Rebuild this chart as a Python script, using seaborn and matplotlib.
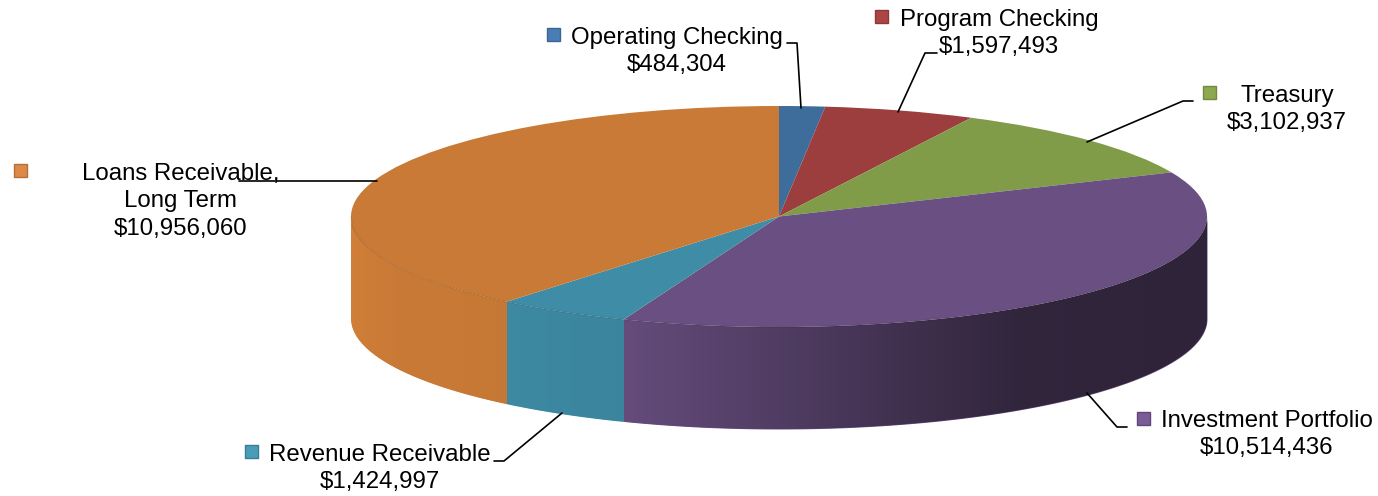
import numpy as np
import matplotlib
matplotlib.use("Agg")
import matplotlib.pyplot as plt
from matplotlib.transforms import Affine2D
from matplotlib.patches import Rectangle
import seaborn as sns

# --------------------------- DATA ---------------------------
names = ["Operating Checking", "Program Checking", "Treasury", "Investment Portfolio",
         "Revenue Receivable", "Loans Receivable,\nLong Term"]
balances = [484304, 1597493, 3102937, 10514436, 1424997, 10956060]

# --------------------------- SETTINGS ---------------------------
sns.set_theme(style="white")
plt.rcParams['font.family'] = ['Liberation Sans', 'DejaVu Sans']

top_colors = sns.color_palette(["#3e6d9c", "#9c3d3e", "#809c48", "#6a5082", "#3e8ca5", "#c97a36"])
key_colors = ["#4a7db5", "#ab4645", "#8ea84f", "#7a5c96", "#4a9cb8", "#dc8a47"]
key_edges = ["#3a6595", "#8c3836", "#718a3c", "#5e4675", "#377f96", "#b86f35"]

# layout, in pixels of the 1378x496 picture
CX, CY, RX, RY, DEPTH = 779, 216.5, 428, 110.5, 102
text_xy = [(677, 51.5), (999, 33.5), (1287, 109.5), (1267, 434.5), (380, 468.5), (181, 201.5)]
key_xy = [(547, 28), (875, 10), (1203, 86), (1137, 412), (245, 445), (14, 164)]
leaders = [
    [(787, 43), (797, 43), (801, 108)],
    [(937, 53), (925, 53), (898, 112)],
    [(1193, 101), (1183, 101), (1087, 142)],
    [(1127, 427), (1117, 427), (1087, 393)],
    [(494, 461), (504, 461), (562, 413)],
    [(239, 181), (377, 181)],
]
# brightness of the side wall from the left end to the right end of the pie
shade_u = [-1.0, -0.9, -0.7, -0.37, 0.0, 0.3, 0.55, 1.0]
shade_f = [1.04, 1.0, 0.99, 0.95, 0.76, 0.6, 0.47, 0.44]


def arc_xy(theta):
    # theta in radians, clockwise from the top of the pie
    return CX + RX * np.sin(theta), CY - RY * np.cos(theta)


fig = plt.figure(figsize=(13.78, 4.96), dpi=100)
ax = fig.add_axes([0, 0, 1, 1])

shares = np.array(balances) / sum(balances)
edges = np.concatenate([[0], np.cumsum(shares)]) * 2 * np.pi

# --------------------------- SIDE WALL ---------------------------
for i, color in enumerate(top_colors):
    start, end = max(edges[i], np.pi / 2), min(edges[i + 1], 3 * np.pi / 2)
    if end <= start:
        continue
    x, y = arc_xy(np.linspace(start, end, 200))
    order = np.argsort(x)
    x, y = x[order], y[order]
    body = ax.fill_between(x, y, y + DEPTH, color=color, lw=0, zorder=1)
    # gradient clipped to the wall piece so it shades smoothly
    u = (np.linspace(x.min(), x.max(), 256) - CX) / RX
    grad = np.clip(np.outer(np.interp(u, shade_u, shade_f), color), 0, 1)[None, :, :]
    im = ax.imshow(grad, extent=[x.min(), x.max(), y.max() + DEPTH, y.min()],
                   aspect='auto', zorder=1.5, interpolation='bilinear')
    im.set_clip_path(body.get_paths()[0], ax.transData)

# --------------------------- TOP FACE ---------------------------
wedges, _ = ax.pie(balances, colors=top_colors, startangle=90, counterclock=False,
                   wedgeprops={'linewidth': 0})
squash = Affine2D().scale(RX, -RY).translate(CX, CY) + ax.transData
for w in wedges:
    w.set_transform(squash)
    w.set_zorder(2)

ax.set_aspect('auto')
ax.set_xlim(0, 1378)
ax.set_ylim(496, 0)
ax.axis('off')

# darker rim between the top face and the wall
rim = np.linspace(np.pi / 2, 3 * np.pi / 2, 200)
rx, ry = arc_xy(rim)
ax.plot(rx, ry, color='black', alpha=0.1, lw=1, zorder=3)

# --------------------------- LABELS ---------------------------
for i, name in enumerate(names):
    ax.text(*text_xy[i], f"{name}\n${balances[i]:,}", ha='center', va='center',
            fontsize=17.3, color='black', linespacing=1.3, zorder=5)
    ax.add_patch(Rectangle(key_xy[i], 13, 13, facecolor=key_colors[i],
                           edgecolor=key_edges[i], lw=1, zorder=5))
    lx, ly = zip(*leaders[i])
    ax.plot(lx, ly, color='black', lw=1.2, zorder=6)

fig.savefig("out.png", dpi=100)
